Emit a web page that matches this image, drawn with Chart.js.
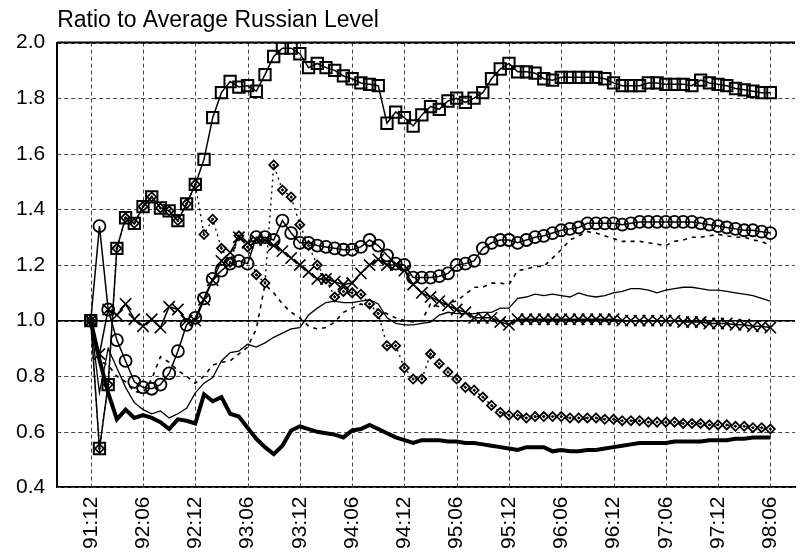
<!DOCTYPE html>
<html>
<head>
<meta charset="utf-8">
<script src="https://cdn.jsdelivr.net/npm/chart.js@4/dist/chart.umd.min.js"></script>
<style>
html,body{margin:0;padding:0;background:#fff;}
#wrap{width:805px;height:558px;}
</style>
</head>
<body>
<div id="wrap"><canvas id="c" width="805" height="558"></canvas></div>
<script>
const tickLabels = ['91:12','92:06','92:12','93:06','93:12','94:06','94:12','95:06','95:12','96:06','96:12','97:06','97:12','98:06'];
const yTicks = [0.4, 0.6, 0.8, 1.0, 1.2, 1.4, 1.6, 1.8, 2.0];

const squares = [1.0,0.54,0.77,1.26,1.37,1.35,1.41,1.445,1.405,1.395,1.36,1.42,1.49,
 1.58,1.73,1.82,1.86,1.84,1.845,1.825,1.885,1.95,1.98,1.98,1.96,
 1.91,1.925,1.91,1.90,1.88,1.87,1.855,1.85,1.845,1.71,1.75,1.73,
 1.70,1.74,1.77,1.76,1.79,1.80,1.785,1.80,1.82,1.87,1.905,1.925,
 1.895,1.895,1.89,1.87,1.865,1.875,1.875,1.875,1.875,1.875,1.87,1.855,
 1.845,1.845,1.845,1.855,1.855,1.85,1.85,1.85,1.845,1.865,1.855,1.85,
 1.845,1.835,1.83,1.825,1.82,1.82];

const circles = [1.0,1.34,1.04,0.93,0.855,0.78,0.76,0.755,0.77,0.81,0.89,0.985,1.01,
 1.08,1.15,1.18,1.205,1.215,1.205,1.30,1.30,1.29,1.36,1.315,1.28,
 1.28,1.27,1.265,1.26,1.255,1.255,1.265,1.29,1.27,1.235,1.205,1.20,
 1.155,1.155,1.155,1.16,1.17,1.20,1.205,1.215,1.26,1.28,1.29,1.29,
 1.28,1.29,1.30,1.305,1.315,1.325,1.33,1.335,1.35,1.35,1.35,1.35,
 1.345,1.35,1.355,1.355,1.355,1.355,1.355,1.355,1.355,1.35,1.345,1.34,
 1.335,1.33,1.325,1.325,1.32,1.315];

const crosses = [1.0,0.88,1.04,1.02,1.06,1.005,0.98,1.005,0.975,1.05,1.04,1.0,1.0,
 1.075,1.145,1.215,1.245,1.30,1.28,1.29,1.29,1.27,1.25,1.225,1.20,
 1.175,1.15,1.15,1.14,1.13,1.135,1.17,1.20,1.22,1.20,1.20,1.18,
 1.13,1.10,1.085,1.07,1.055,1.04,1.03,1.01,1.01,1.01,0.995,0.985,
 1.005,1.005,1.005,1.005,1.005,1.005,1.005,1.005,1.005,1.005,1.005,1.005,
 1.0,1.0,1.0,1.0,1.0,1.0,1.0,0.995,0.995,0.995,0.99,0.99,
 0.99,0.985,0.985,0.98,0.98,0.975];

const diamonds = [1.0,0.54,0.77,1.26,1.37,1.35,1.41,1.445,1.405,1.395,1.36,1.42,1.49,
 1.31,1.365,1.26,1.21,1.305,1.265,1.165,1.135,1.56,1.47,1.445,1.345,
 1.27,1.20,1.15,1.085,1.105,1.10,1.095,1.06,1.025,0.91,0.91,0.83,
 0.79,0.79,0.88,0.845,0.815,0.79,0.76,0.75,0.725,0.695,0.67,0.66,
 0.66,0.65,0.655,0.655,0.655,0.655,0.65,0.65,0.65,0.65,0.645,0.645,
 0.64,0.64,0.64,0.635,0.635,0.635,0.635,0.63,0.63,0.63,0.625,0.625,
 0.625,0.62,0.62,0.615,0.615,0.61];

const thinLine = [1.0,0.74,0.90,0.83,0.76,0.705,0.68,0.665,0.675,0.65,0.665,0.685,0.74,
 0.775,0.795,0.855,0.885,0.89,0.915,0.905,0.92,0.94,0.955,0.97,0.975,
 1.02,1.045,1.065,1.07,1.065,1.065,1.07,1.075,1.06,1.01,0.99,0.985,
 0.985,0.99,0.995,1.02,1.03,1.025,1.025,1.025,1.03,1.03,1.045,1.045,
 1.08,1.085,1.095,1.09,1.095,1.09,1.085,1.10,1.09,1.085,1.09,1.10,
 1.105,1.115,1.115,1.11,1.10,1.11,1.115,1.12,1.12,1.115,1.11,1.11,
 1.105,1.10,1.095,1.09,1.08,1.07];

const dashedLine = [1.0,0.855,0.84,0.80,0.78,0.745,0.74,0.79,0.87,0.85,0.82,0.80,0.775,
 0.80,0.84,0.85,0.855,0.88,0.905,0.97,1.13,1.10,1.06,1.03,1.01,
 0.98,0.97,0.975,0.995,1.03,1.045,1.06,1.05,1.04,1.025,1.01,1.0,
 0.995,1.0,1.06,1.05,1.065,1.07,1.095,1.12,1.12,1.135,1.135,1.13,
 1.18,1.185,1.195,1.195,1.225,1.255,1.29,1.305,1.32,1.315,1.305,1.295,
 1.285,1.285,1.285,1.28,1.275,1.27,1.285,1.29,1.30,1.30,1.305,1.31,
 1.305,1.30,1.30,1.29,1.285,1.27];

const thickLine = [1.0,0.86,0.74,0.645,0.68,0.65,0.66,0.65,0.635,0.61,0.645,0.64,0.63,
 0.735,0.71,0.725,0.665,0.655,0.615,0.575,0.545,0.52,0.55,0.605,0.62,
 0.61,0.60,0.595,0.59,0.58,0.605,0.61,0.625,0.61,0.595,0.58,0.57,
 0.56,0.57,0.57,0.57,0.565,0.565,0.56,0.56,0.555,0.55,0.545,0.54,
 0.535,0.545,0.545,0.545,0.53,0.535,0.53,0.53,0.535,0.535,0.54,0.545,
 0.55,0.555,0.56,0.56,0.56,0.56,0.565,0.565,0.565,0.565,0.57,0.57,
 0.57,0.575,0.575,0.58,0.58,0.58];

const pts = arr => arr.map((v, i) => ({x: i, y: v}));
const none = 'rgba(0,0,0,0)';

function dashSeg(ctx, x0, y0, x1, y1, on, off) {
  const len = Math.hypot(x1 - x0, y1 - y0);
  const dx = (x1 - x0) / len, dy = (y1 - y0) / len;
  ctx.beginPath();
  for (let s = 0; s < len; s += on + off) {
    const e = Math.min(s + on, len);
    ctx.moveTo(x0 + dx * s, y0 + dy * s);
    ctx.lineTo(x0 + dx * e, y0 + dy * e);
  }
  ctx.stroke();
}

const frame = {
  id: 'frame',
  beforeDatasetsDraw(chart) {
    const ctx = chart.ctx, a = chart.chartArea, x = chart.scales.x, y = chart.scales.y;
    ctx.save();
    ctx.setLineDash([]);
    ctx.strokeStyle = '#444444';
    ctx.lineWidth = 1;
    tickLabels.forEach((lab, i) => {
      const px = Math.round(x.getPixelForValue(i * 6)) + 0.5;
      dashSeg(ctx, px, a.top, px, a.bottom, 4, 3);
    });
    yTicks.forEach(v => {
      const py = Math.round(y.getPixelForValue(v)) + 0.5;
      dashSeg(ctx, a.left, py, a.right, py, 4, 3);
    });
    ctx.strokeStyle = '#000';
    const yy = y.getPixelForValue(1.0);
    ctx.lineWidth = 1.5;
    ctx.beginPath(); ctx.moveTo(a.left, yy); ctx.lineTo(a.right, yy); ctx.stroke();
    ctx.lineWidth = 2;
    ctx.beginPath(); ctx.moveTo(a.left, a.top); ctx.lineTo(a.right, a.top); ctx.stroke();
    ctx.restore();
  }
};

const base = {tension: 0, borderColor: '#000', pointBorderColor: '#000', pointBackgroundColor: none, fill: false};
const fontFam = 'Liberation Sans, Arial, sans-serif';

new Chart(document.getElementById('c'), {
  type: 'line',
  data: {
    datasets: [
      Object.assign({}, base, {label: 'thick', data: pts(thickLine), borderWidth: 4, pointRadius: 0}),
      Object.assign({}, base, {label: 'thin', data: pts(thinLine), borderWidth: 1.3, pointRadius: 0}),
      Object.assign({}, base, {label: 'dashed', data: pts(dashedLine), borderWidth: 1.6, borderDash: [4, 5], pointRadius: 0}),
      Object.assign({}, base, {label: 'diamonds', data: pts(diamonds), borderWidth: 1.4, borderDash: [2, 4], pointStyle: 'rectRot', pointRadius: 4.5, pointBorderWidth: 1.8}),
      Object.assign({}, base, {label: 'diamond dots', data: pts(diamonds), showLine: false, pointStyle: 'circle', pointRadius: 1, pointBorderWidth: 1, pointBackgroundColor: '#000'}),
      Object.assign({}, base, {label: 'crosses', data: pts(crosses), borderWidth: 1.5, pointStyle: 'crossRot', pointRadius: 8, pointBorderWidth: 1.6}),
      Object.assign({}, base, {label: 'circles', data: pts(circles), borderWidth: 1.5, pointStyle: 'circle', pointRadius: 6, pointBorderWidth: 1.8}),
      Object.assign({}, base, {label: 'squares', data: pts(squares), borderWidth: 1.5, pointStyle: 'rect', pointRadius: 8, pointBorderWidth: 2})
    ]
  },
  options: {
    responsive: false,
    animation: false,
    events: [],
    layout: {padding: {left: 4, right: 0, top: 0, bottom: 0}},
    plugins: {
      legend: {display: false},
      tooltip: {enabled: false},
      title: {
        display: true, text: 'Ratio to Average Russian Level', align: 'start', fullSize: false,
        color: '#000', font: {family: fontFam, size: 23, weight: 'normal'},
        padding: {top: 7, bottom: 8}
      }
    },
    scales: {
      x: {
        type: 'linear', min: -3.85, max: 80.83,
        afterFit(s) { s.paddingLeft = 0; s.paddingRight = 0; },
        border: {display: true, color: '#000', width: 2},
        grid: {display: false, drawTicks: false},
        ticks: {
          stepSize: 6, includeBounds: false, autoSkip: false, maxRotation: 90, minRotation: 90,
          padding: 9, color: '#000',
          font: {family: fontFam, size: 21},
          callback: v => tickLabels[v / 6]
        }
      },
      y: {
        min: 0.4, max: 2.0,
        border: {display: true, color: '#000', width: 2},
        grid: {display: false, drawTicks: false},
        ticks: {
          stepSize: 0.2, padding: 12, color: '#000',
          font: {family: fontFam, size: 21},
          callback: v => v.toFixed(1)
        }
      }
    }
  },
  plugins: [frame]
});
</script>
</body>
</html>
